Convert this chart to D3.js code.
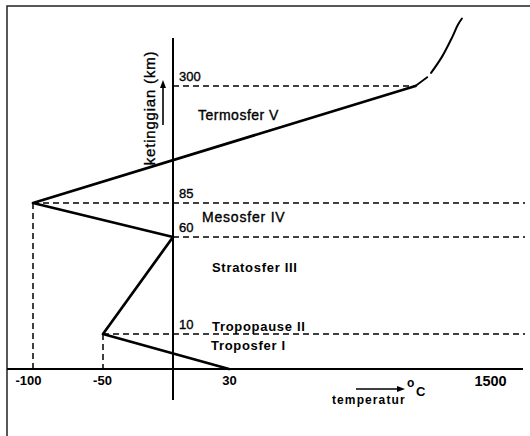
<!DOCTYPE html>
<html><head><meta charset="utf-8">
<script src="https://cdn.jsdelivr.net/npm/d3@7"></script>
<style>
body{margin:0;background:#fff}
svg{display:block;background:#fff}
text{font-family:"Liberation Sans",Arial,Helvetica,sans-serif;fill:#000}
</style>
</head><body>
<svg id="c" width="530" height="436"></svg>
<script>
// ---- data ----
const altitudes = [0, 10, 60, 85, 300];          // km
const temperatures = [30, -50, 0, -100, 1080];   // degC
const upperGapAlt = [300, 317];
const upperGapTemp = [1080, 1150];
const upperAlt = [324, 354, 389, 413, 424];
const upperTemp = [1168, 1230, 1286, 1320, 1342];
const tempTicks = [-100, -50, 30, 1500];
const altTicks = [10, 60, 85, 300];
const layerNames = ["Troposfer I", "Tropopause II", "Stratosfer III", "Mesosfer IV", "Termosfer V"];
const yLabel = "ketinggian (km)";
const xLabel = "temperatur";
const unitLabel = "C";

// ---- scales (schematic, piecewise) ----
const x = d3.scaleLinear().domain([-100, -50, 0, 30, 1500]).range([33, 103, 173, 229, 490]);
const y = d3.scaleLinear().domain([0, 10, 60, 85, 300]).range([369, 334, 237, 203, 86]);

const svg = d3.select("#c");

// frame (top + left)
svg.append("path").attr("d", "M7,436V6H530").attr("fill", "none")
  .attr("stroke", "#222").attr("stroke-width", 1.5);

// dashed guides
const dash = "6,4";
const g = svg.append("g").attr("stroke", "#000").attr("stroke-width", 1.5).attr("stroke-dasharray", dash).attr("fill", "none");
altitudes.forEach((a, i) => {
  if (a === 0) return;
  if (a === 300) {
    g.append("line").attr("x1", x(0)).attr("x2", x(temperatures[i])).attr("y1", y(a)).attr("y2", y(a));
  } else {
    g.append("line").attr("x1", x(temperatures[i])).attr("x2", 525).attr("y1", y(a)).attr("y2", y(a));
  }
  if (temperatures[i] < 0 && a !== 60) {
    g.append("line").attr("x1", x(temperatures[i])).attr("x2", x(temperatures[i])).attr("y1", y(a)).attr("y2", y(0));
  }
});

// axes lines
svg.append("line").attr("x1", x(0)).attr("x2", x(0)).attr("y1", 38).attr("y2", 400)
  .attr("stroke", "#000").attr("stroke-width", 2);
svg.append("line").attr("x1", 7).attr("x2", 523).attr("y1", y(0)).attr("y2", y(0))
  .attr("stroke", "#000").attr("stroke-width", 2.2);

// x tick labels
const xa = svg.append("g").attr("transform", `translate(0,${y(0)})`)
  .call(d3.axisBottom(x).tickValues(tempTicks).tickSize(0).tickPadding(7).tickFormat(d => String(d)));
xa.select(".domain").remove();
xa.selectAll("text").attr("font-size", 13).attr("font-weight", "bold")
  .attr("font-family", "Liberation Sans, Arial, sans-serif").attr("fill", "#000")
  .attr("dx", d => d === -100 ? -5 : (d === -50 ? -1 : 0))
  .filter(d => d === 1500).attr("font-size", 14.5);

// y tick labels
const ya = svg.append("g").attr("transform", `translate(${x(0)},0)`)
  .call(d3.axisRight(y).tickValues(altTicks).tickSize(0).tickPadding(6));
ya.select(".domain").remove();
ya.selectAll("text").attr("font-size", 13).attr("dy", "-0.4em")
  .attr("font-family", "Liberation Sans, Arial, sans-serif").attr("fill", "#000")
  .attr("stroke", "#000").attr("stroke-width", 0.35);

// profile
const line = d3.line().x(d => x(d[1])).y(d => y(d[0]));
svg.append("path").datum(altitudes.map((a, i) => [a, temperatures[i]]))
  .attr("d", line).attr("fill", "none").attr("stroke", "#000")
  .attr("stroke-width", 2.7).attr("stroke-linejoin", "round").attr("stroke-linecap", "round");
svg.append("path").datum(upperGapAlt.map((a, i) => [a, upperGapTemp[i]]))
  .attr("d", line).attr("fill", "none").attr("stroke", "#000").attr("stroke-width", 1.8);
svg.append("path").datum(upperAlt.map((a, i) => [a, upperTemp[i]]))
  .attr("d", line.curve(d3.curveCatmullRom)).attr("fill", "none").attr("stroke", "#000")
  .attr("stroke-width", 2).attr("stroke-linecap", "round");

// layer labels
const layerPos = [[211, 350, "bold", 13, 0.7], [212, 331, "bold", 13, 0.7], [212, 272, "bold", 13, 0.7],
                  [202, 222, "normal", 14, 0.8], [198, 120, "normal", 14, 0.5]];
layerNames.forEach((n, i) => {
  const p = layerPos[i];
  const t = svg.append("text").attr("x", p[0]).attr("y", p[1]).attr("font-weight", p[2])
    .attr("font-size", p[3]).attr("letter-spacing", p[4]).text(n);
  if (p[2] === "normal") t.attr("stroke", "#000").attr("stroke-width", 0.35);
});

// y label + arrow
svg.append("text").attr("transform", "translate(155,108) rotate(-90)")
  .attr("text-anchor", "middle").attr("font-size", 15).attr("letter-spacing", 0.8)
  .attr("stroke", "#000").attr("stroke-width", 0.35).text(yLabel);
svg.append("line").attr("x1", 163).attr("x2", 163).attr("y1", 125).attr("y2", 86)
  .attr("stroke", "#000").attr("stroke-width", 1.6);
svg.append("path").attr("d", "M163,80L160,88L166,88Z").attr("fill", "#000");

// x label + arrow
svg.append("line").attr("x1", 356).attr("x2", 399).attr("y1", 389).attr("y2", 389)
  .attr("stroke", "#000").attr("stroke-width", 1.6);
svg.append("path").attr("d", "M405,389L397,386L397,392Z").attr("fill", "#000");
svg.append("text").attr("x", 332).attr("y", 404).attr("font-size", 12).attr("font-weight", "bold")
  .attr("letter-spacing", 1.1).text(xLabel);
svg.append("text").attr("x", 407).attr("y", 387).attr("font-size", 12).attr("font-weight", "bold").text("o");
svg.append("text").attr("x", 416).attr("y", 396).attr("font-size", 13).attr("font-weight", "bold").text(unitLabel);
</script>
</body></html>
